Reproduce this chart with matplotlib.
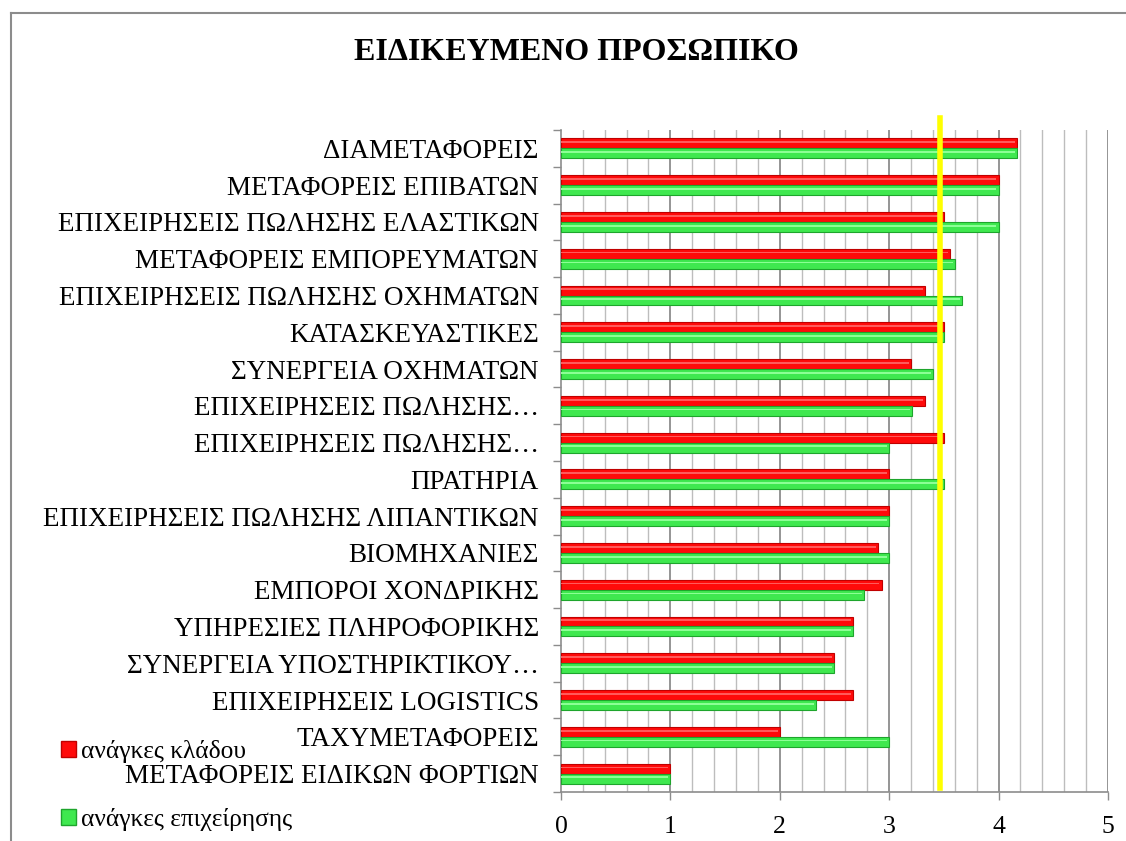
import matplotlib
matplotlib.use('Agg')
import matplotlib.pyplot as plt
from matplotlib.patches import Patch
from matplotlib.lines import Line2D
import numpy as np

plt.rcParams['font.family'] = ['Liberation Serif', 'DejaVu Serif']

categories = [
    'ΔΙΑΜΕΤΑΦΟΡΕΙΣ',
    'ΜΕΤΑΦΟΡΕΙΣ ΕΠΙΒΑΤΩΝ',
    'ΕΠΙΧΕΙΡΗΣΕΙΣ ΠΩΛΗΣΗΣ ΕΛΑΣΤΙΚΩΝ',
    'ΜΕΤΑΦΟΡΕΙΣ ΕΜΠΟΡΕΥΜΑΤΩΝ',
    'ΕΠΙΧΕΙΡΗΣΕΙΣ ΠΩΛΗΣΗΣ ΟΧΗΜΑΤΩΝ',
    'ΚΑΤΑΣΚΕΥΑΣΤΙΚΕΣ',
    'ΣΥΝΕΡΓΕΙΑ ΟΧΗΜΑΤΩΝ',
    'ΕΠΙΧΕΙΡΗΣΕΙΣ ΠΩΛΗΣΗΣ…',
    'ΕΠΙΧΕΙΡΗΣΕΙΣ ΠΩΛΗΣΗΣ…',
    'ΠΡΑΤΗΡΙΑ',
    'ΕΠΙΧΕΙΡΗΣΕΙΣ ΠΩΛΗΣΗΣ ΛΙΠΑΝΤΙΚΩΝ',
    'ΒΙΟΜΗΧΑΝΙΕΣ',
    'ΕΜΠΟΡΟΙ ΧΟΝΔΡΙΚΗΣ',
    'ΥΠΗΡΕΣΙΕΣ ΠΛΗΡΟΦΟΡΙΚΗΣ',
    'ΣΥΝΕΡΓΕΙΑ ΥΠΟΣΤΗΡΙΚΤΙΚΟΥ…',
    'ΕΠΙΧΕΙΡΗΣΕΙΣ LOGISTICS',
    'ΤΑΧΥΜΕΤΑΦΟΡΕΙΣ',
    'ΜΕΤΑΦΟΡΕΙΣ ΕΙΔΙΚΩΝ ΦΟΡΤΙΩΝ',
]

# ανάγκες κλάδου (red)
sector_needs = [4.17, 4.0, 3.5, 3.56, 3.33, 3.5, 3.2, 3.33, 3.5, 3.0,
                3.0, 2.9, 2.93, 2.67, 2.5, 2.67, 2.0, 1.0]
# ανάγκες επιχείρησης (green)
company_needs = [4.17, 4.0, 4.0, 3.6, 3.67, 3.5, 3.4, 3.21, 3.0, 3.5,
                 3.0, 3.0, 2.77, 2.67, 2.5, 2.33, 3.0, 1.0]

average_line = 3.46
series_labels = ['ανάγκες κλάδου', 'ανάγκες επιχείρησης']

fig = plt.figure(figsize=(11.26, 8.41), dpi=100)
ax = fig.add_axes([0.4982, 0.0583, 0.4858, 0.7871])

y = np.arange(len(categories))
h = 0.27

red, red_edge, red_hi = '#ff0a0a', '#c00000', '#ff5a5a'
grn, grn_edge, grn_hi = '#3fe84f', '#1ea52c', '#8cff95'

ax.barh(y - h / 2, sector_needs, height=h, color=red, edgecolor=red_edge,
        linewidth=0.8, zorder=3)
ax.barh(y + h / 2, company_needs, height=h, color=grn, edgecolor=grn_edge,
        linewidth=0.8, zorder=3)
# thin highlight stripe to mimic the bevelled bars
ax.barh(y - h / 2 - h * 0.12, np.array(sector_needs) - 0.02, height=h * 0.18,
        color=red_hi, linewidth=0, zorder=4)
ax.barh(y + h / 2 - h * 0.12, np.array(company_needs) - 0.02, height=h * 0.18,
        color=grn_hi, linewidth=0, zorder=4)

ax.set_xlim(0, 5)
ax.set_ylim(len(categories) - 0.5, -0.5)

# grid: light every 0.2, darker every 1
for v in np.arange(0.2, 5.01, 0.2):
    major = abs(v - round(v)) < 1e-6
    ax.axvline(v, color='#8c8c8c' if major else '#bdbdbd',
               lw=1.3 if major else 1.0, zorder=1)

ax.axvline(average_line, ymin=0.006, ymax=1.018, color='#ffff00', lw=4,
           zorder=6, clip_on=False)

for s in ['top', 'right']:
    ax.spines[s].set_visible(False)
for s in ['left', 'bottom']:
    ax.spines[s].set_color('#8c8c8c')
    ax.spines[s].set_linewidth(1.2)

ax.set_xticks(range(6))
ax.tick_params(axis='x', direction='out', length=6, width=1, color='#8c8c8c',
               labelsize=18.5, pad=11)
ax.set_yticks(np.arange(-0.5, len(categories), 1.0))
ax.set_yticklabels([])
ax.set_yticks(y, minor=True)
ax.set_yticklabels(categories, minor=True)
ax.tick_params(axis='y', which='major', direction='out', length=6, width=1,
               color='#8c8c8c')
ax.tick_params(axis='y', which='minor', length=0, labelsize=19.5, pad=16)

fig.text(0.5115, 0.938, 'ΕΙΔΙΚΕΥΜΕΝΟ ΠΡΟΣΩΠΙΚΟ', ha='center', va='center',
         fontsize=23, fontweight='bold')

handles = [Patch(facecolor=red, edgecolor=red_edge),
           Patch(facecolor=grn, edgecolor=grn_edge)]
fig.legend(handles, series_labels, loc='upper left',
           bbox_to_anchor=(0.054, 0.120), frameon=False, fontsize=18.3,
           handlelength=0.6, handleheight=0.6, handletextpad=0.2,
           labelspacing=1.75, borderpad=0, borderaxespad=0)

# outer chart frame (partly cut off)
fig.add_artist(Line2D([11 / 1126, 11 / 1126], [0, 1 - 13 / 841],
                      color='#8c8c8c', lw=1.5))
fig.add_artist(Line2D([11 / 1126, 1], [1 - 13 / 841, 1 - 13 / 841],
                      color='#8c8c8c', lw=1.5))

fig.savefig('out.png', dpi=100)
